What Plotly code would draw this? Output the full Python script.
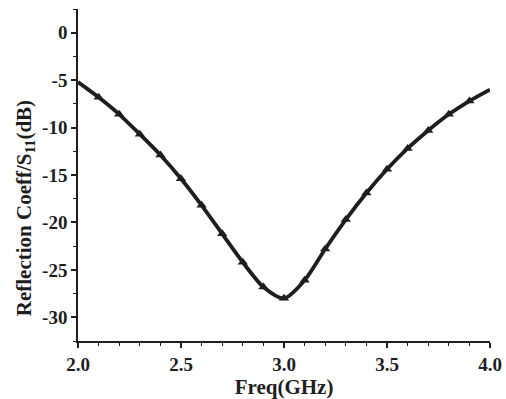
import plotly.graph_objects as go

freq = [2.0, 2.1, 2.2, 2.3, 2.4, 2.5, 2.6, 2.7, 2.8, 2.9, 3.0,
        3.1, 3.2, 3.3, 3.4, 3.5, 3.6, 3.7, 3.8, 3.9, 4.0]
s11 = [-5.2, -6.8, -8.6, -10.7, -12.9, -15.4, -18.2, -21.2, -24.2, -26.8, -28.0,
       -26.1, -22.8, -19.7, -16.9, -14.4, -12.2, -10.3, -8.6, -7.2, -6.0]

xticks = [2.0, 2.5, 3.0, 3.5, 4.0]
xticklabels = ["2.0", "2.5", "3.0", "3.5", "4.0"]
yticks = [0, -5, -10, -15, -20, -25, -30]
yticklabels = ["0", "-5", "-10", "-15", "-20", "-25", "-30"]

FONT = "Liberation Serif"
INK = "#1e1e1e"

fig = go.Figure()
fig.add_trace(go.Scatter(x=freq, y=s11, mode="lines",
                         line=dict(color=INK, width=3.8, shape="spline", smoothing=0.8),
                         showlegend=False, hoverinfo="skip"))
fig.add_trace(go.Scatter(x=freq[1:-1], y=s11[1:-1], mode="markers",
                         marker=dict(symbol="triangle-up", size=9, color=INK),
                         showlegend=False))

axis_common = dict(showline=True, linecolor=INK, linewidth=1.5,
                   ticks="outside", ticklen=5, tickwidth=1.5, tickcolor=INK,
                   showgrid=False, zeroline=False, mirror=False, automargin=False,
                   tickfont=dict(family=FONT, size=19, color=INK, weight="bold"))

fig.update_xaxes(range=[2.0, 4.0], tickvals=xticks, ticktext=xticklabels,
                 minor=dict(ticks="outside", ticklen=3, tickwidth=1.2, tickcolor=INK,
                            tickvals=[2.1, 2.2, 2.3, 2.4, 2.6, 2.7, 2.8, 2.9,
                                      3.1, 3.2, 3.3, 3.4, 3.6, 3.7, 3.8, 3.9]),
                 title=dict(text="Freq(GHz)", font=dict(family=FONT, size=21, color=INK, weight="bold"),
                            standoff=0),
                 **axis_common)
fig.update_yaxes(range=[-32.5, 2.5], tickvals=yticks, ticktext=yticklabels,
                 minor=dict(ticks="outside", ticklen=3, tickwidth=1.2, tickcolor=INK, dtick=2.5),
                 **axis_common)

fig.add_annotation(text="Reflection Coeff/S<sub>11</sub>(dB)", xref="paper", yref="paper",
                   x=0, xshift=-53, y=0.40, textangle=-90, showarrow=False,
                   font=dict(family=FONT, size=21, color=INK, weight="bold"),
                   xanchor="center", yanchor="middle")

fig.update_layout(width=506, height=399, margin=dict(l=78, r=16, t=9, b=58),
                  plot_bgcolor="white", paper_bgcolor="white",
                  font=dict(family=FONT, color=INK))
fig.write_html("out.html", config={"displayModeBar": False},
               post_script="document.body.style.margin='0';")
